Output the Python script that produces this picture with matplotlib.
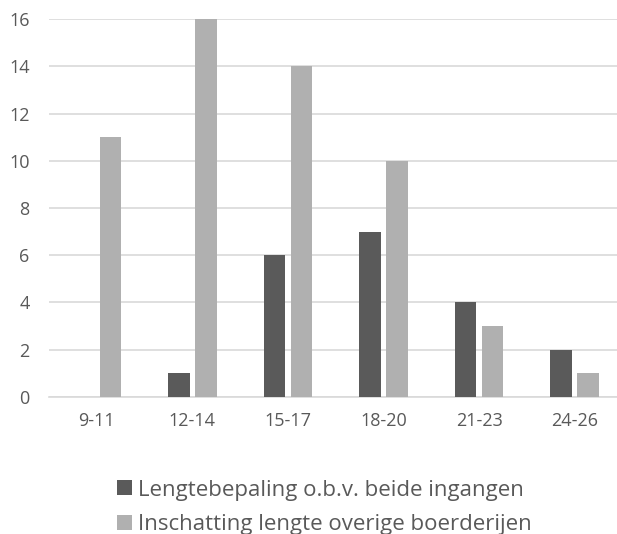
import matplotlib.pyplot as plt
import numpy as np

plt.rcParams['font.family'] = ['Open Sans', 'DejaVu Sans']

categories = ['9-11', '12-14', '15-17', '18-20', '21-23', '24-26']
beide_ingangen = [0, 1, 6, 7, 4, 2]
overige = [11, 16, 14, 10, 3, 1]
labels = ['Lengtebepaling o.b.v. beide ingangen', 'Inschatting lengte overige boerderijen']

dark = '#5a5a5a'
light = '#b0b0b0'
text_col = '#595959'
grid_col = '#d9d9d9'

fig = plt.figure(figsize=(6.17, 5.34), dpi=100)
# plot area runs off the right edge of the picture, as in the original
ax = fig.add_axes([0.0794, 0.2566, 0.9295, 0.7078])

x = np.arange(len(categories))
w = 0.225
off = 0.141
ax.bar(x - off, beide_ingangen, w, color=dark, label=labels[0], zorder=3)
ax.bar(x + off, overige, w, color=light, label=labels[1], zorder=3)

ax.set_xlim(-0.5, len(categories) - 0.5)
ax.set_ylim(0, 16)
ax.set_yticks(np.arange(0, 17, 2))
ax.set_xticks(x)
ax.set_xticklabels(categories)
ax.grid(axis='y', color=grid_col, linewidth=1.2, zorder=0)
for s in ['top', 'right', 'left']:
    ax.spines[s].set_visible(False)
ax.spines['bottom'].set_color(grid_col)
ax.spines['bottom'].set_linewidth(1.2)
ax.tick_params(axis='both', length=0, labelsize=13, colors=text_col)
ax.tick_params(axis='y', pad=14)
ax.tick_params(axis='x', pad=11)

fig.legend(loc='upper center', bbox_to_anchor=(0.526, 0.11), ncol=1, frameon=False,
           fontsize=16, labelcolor=text_col, handlelength=0.65, handleheight=0.65,
           handletextpad=0.3, labelspacing=0.6, borderaxespad=0, borderpad=0.2)

fig.savefig('out.png', dpi=100)
